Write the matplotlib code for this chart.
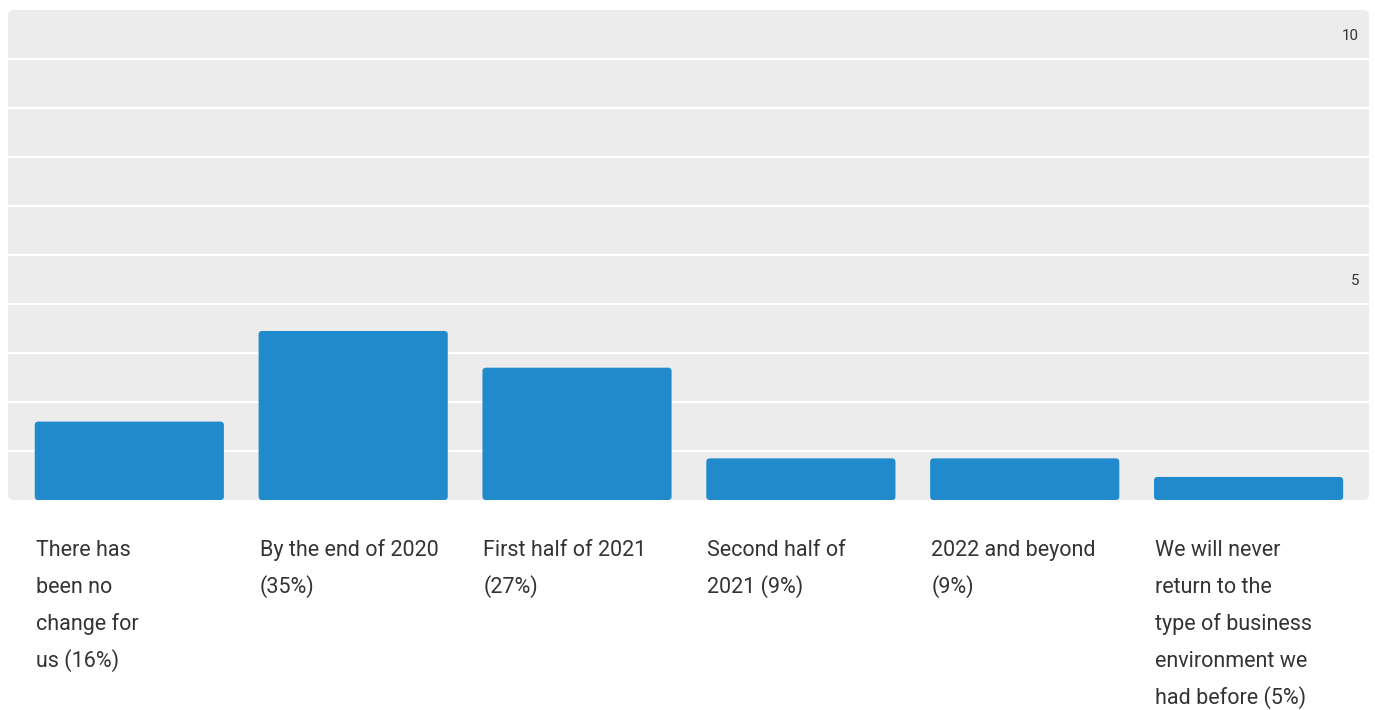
import matplotlib.pyplot as plt
from matplotlib.patches import FancyBboxPatch

plt.rcParams['font.family'] = ['Roboto', 'DejaVu Sans']

categories = [
    'There has\nbeen no\nchange for\nus (16%)',
    'By the end of 2020\n(35%)',
    'First half of 2021\n(27%)',
    'Second half of\n2021 (9%)',
    '2022 and beyond\n(9%)',
    'We will never\nreturn to the\ntype of business\nenvironment we\nhad before (5%)',
]
values = [1.6, 3.45, 2.7, 0.85, 0.85, 0.47]
tick_values = [5, 10]

bar_color = '#218acc'
bg_color = '#ececec'
text_color = '#333333'
bar_w = 0.845

fig = plt.figure(figsize=(13.75, 7.1), dpi=100)
ax = fig.add_axes([8 / 1375, 210 / 710, 1361 / 1375, 490 / 710])
ax.set_xlim(-0.542, len(values) - 1 + 0.538)
ax.set_ylim(0, 10)
ax.patch.set_visible(False)
for s in ax.spines.values():
    s.set_visible(False)
ax.set_xticks([])
ax.set_yticks([])

# rounded gray plot background
bg = FancyBboxPatch((0, 0), 1, 1, boxstyle='round,pad=0,rounding_size=0.004',
                    mutation_aspect=1361 / 490, transform=ax.transAxes,
                    facecolor=bg_color, edgecolor='none', zorder=0, clip_on=False)
ax.add_patch(bg)

for g in range(1, 10):
    ax.axhline(g, color='white', lw=1.6, zorder=1)

aspect = (10 / 490) / (1 / 224)
for i, v in enumerate(values):
    p = FancyBboxPatch((i - bar_w / 2, 0), bar_w, v,
                       boxstyle='round,pad=0,rounding_size=0.016',
                       mutation_aspect=aspect, facecolor=bar_color,
                       edgecolor='none', zorder=2)
    ax.add_patch(p)
    # one text per line so the line pitch stays even
    for k, line in enumerate(categories[i].split('\n')):
        ax.annotate(line, xy=(i - bar_w / 2, 0), xycoords='data',
                    xytext=(1, -56 - 37 * k), textcoords='offset pixels',
                    ha='left', va='baseline', fontsize=15.5, color=text_color,
                    annotation_clip=False)

for t in tick_values:
    ax.annotate(str(t), xy=(1, t), xycoords=('axes fraction', 'data'),
                xytext=(-10, -26), textcoords='offset pixels',
                ha='right', va='center', fontsize=10.8, color=text_color)

fig.savefig('out.png', dpi=100)
